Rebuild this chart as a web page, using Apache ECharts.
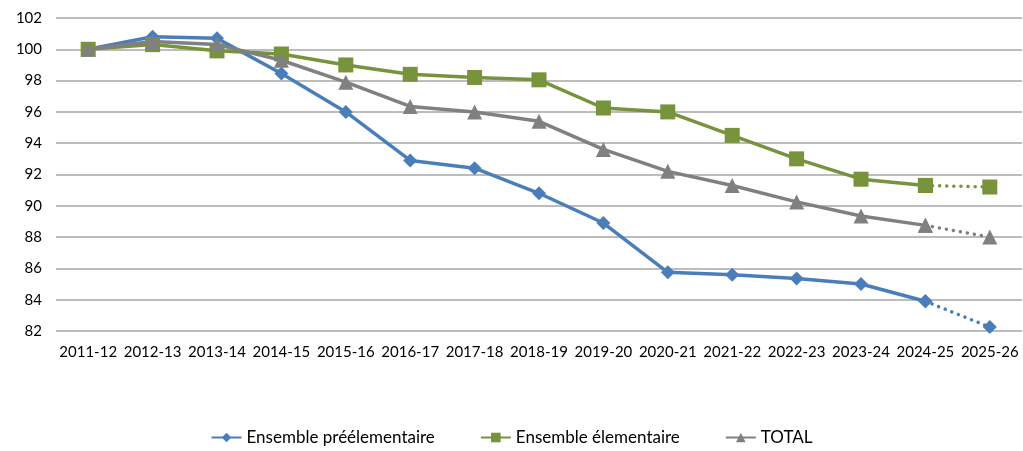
<!DOCTYPE html>
<html>
<head>
<meta charset="utf-8">
<script src="https://cdn.jsdelivr.net/npm/echarts@6/dist/echarts.min.js"></script>
<style>
  html, body { margin: 0; padding: 0; background: #fff; }
  #chart { width: 1023px; height: 451px; }
</style>
</head>
<body>
<div id="chart"></div>
<script>
  var years = ['2011-12','2012-13','2013-14','2014-15','2015-16','2016-17','2017-18','2018-19',
    '2019-20','2020-21','2021-22','2022-23','2023-24','2024-25','2025-26'];
  var preelem = [100, 100.8, 100.7, 98.45, 96.0, 92.9, 92.4, 90.8, 88.9, 85.75, 85.6, 85.35, 85.0, 83.9, 82.25];
  var elem = [100, 100.3, 99.9, 99.7, 99.0, 98.4, 98.2, 98.05, 96.25, 96.0, 94.5, 93.0, 91.7, 91.3, 91.2];
  var total = [100, 100.5, 100.3, 99.3, 97.9, 96.35, 96.0, 95.4, 93.6, 92.2, 91.3, 90.25, 89.35, 88.75, 88.0];
  var names = ['Ensemble préélementaire', 'Ensemble élementaire', 'TOTAL'];

  var nObs = 14; // last observed point (2024-25), after that : projection

  var chart = echarts.init(document.getElementById('chart'));

  function solid(arr) { return arr.map(function (v, i) { return i < nObs ? v : null; }); }
  function dotted(arr) { return arr.map(function (v, i) { return i >= nObs - 1 ? v : null; }); }

  var styles = [
    { color: '#4a7ebb', symbol: 'diamond', size: 14 },
    { color: '#77933c', symbol: 'rect', size: 15 },
    { color: '#808080', symbol: 'triangle', size: 15 }
  ];
  var all = [preelem, elem, total];

  var series = [];
  all.forEach(function (arr, k) {
    var s = styles[k];
    series.push({
      name: names[k], type: 'line', data: solid(arr),
      symbol: s.symbol, symbolSize: s.size, z: 3 + k,
      itemStyle: { color: s.color },
      lineStyle: { color: s.color, width: 3.5 }
    });
    series.push({
      name: names[k] + '_proj', type: 'line', data: dotted(arr),
      symbol: s.symbol, symbolSize: s.size, z: 3 + k,
      itemStyle: { color: s.color },
      lineStyle: { color: s.color, width: 3.5, type: [0.1, 7], cap: 'round' }
    });
  });

  chart.setOption({
    animation: false,
    textStyle: { fontFamily: 'Lato' },
    grid: { left: 56, right: 1, top: 18, bottom: 120 },
    legend: {
      data: names,
      bottom: 0,
      itemWidth: 30,
      itemHeight: 12,
      itemGap: 45,
      textStyle: { fontSize: 17, color: '#000', fontFamily: 'Lato' }
    },
    xAxis: {
      type: 'category', data: years, boundaryGap: true,
      axisLine: { show: false }, axisTick: { show: false },
      axisLabel: { color: '#000', fontSize: 15, margin: 14, interval: 0 }
    },
    yAxis: {
      type: 'value', min: 82, max: 102, interval: 2,
      axisLine: { show: false }, axisTick: { show: false },
      axisLabel: { color: '#000', fontSize: 15, margin: 14 },
      splitLine: { lineStyle: { color: '#a6a6a6', width: 1.5 } }
    },
    series: series
  });
</script>
</body>
</html>
